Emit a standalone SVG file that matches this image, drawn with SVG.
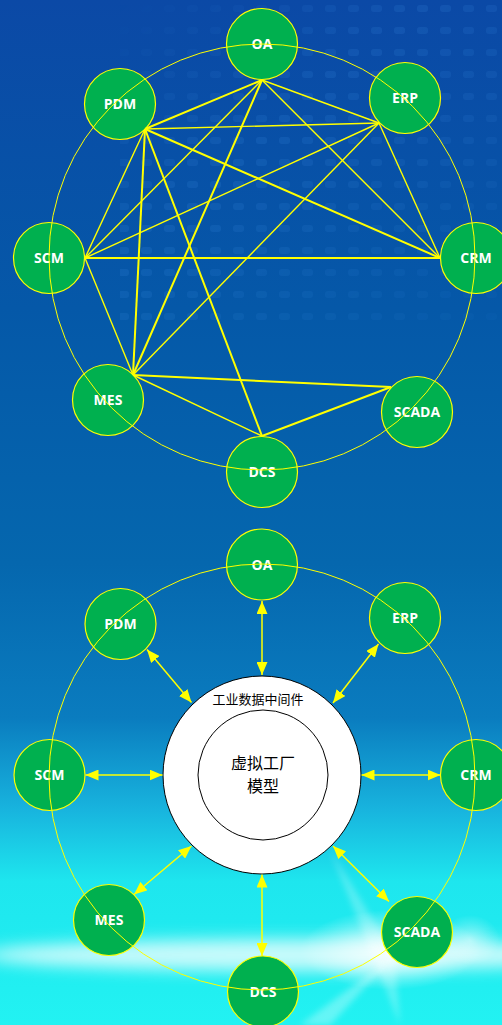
<svg xmlns="http://www.w3.org/2000/svg" width="502" height="1025" viewBox="0 0 502 1025">
<defs>
<linearGradient id="bg" x1="0" y1="0" x2="0" y2="1">
<stop offset="0" stop-color="#0b49a6"/>
<stop offset="0.3" stop-color="#0558a8"/>
<stop offset="0.55" stop-color="#0567ae"/>
<stop offset="0.7" stop-color="#0a7cbf"/>
<stop offset="0.79" stop-color="#18b4de"/>
<stop offset="0.86" stop-color="#1ee6ee"/>
<stop offset="1" stop-color="#22f2f2"/>
</linearGradient>
<radialGradient id="glow" cx="0.5" cy="0.5" r="0.5">
<stop offset="0" stop-color="#ffffff" stop-opacity="0.95"/>
<stop offset="0.5" stop-color="#ffffff" stop-opacity="0.5"/>
<stop offset="1" stop-color="#ffffff" stop-opacity="0"/>
</radialGradient>
<linearGradient id="fadeR" x1="0" y1="0" x2="1" y2="1">
<stop offset="0" stop-color="#fff" stop-opacity="0"/>
<stop offset="0.4" stop-color="#fff" stop-opacity="1"/>
<stop offset="1" stop-color="#fff" stop-opacity="0.3"/>
</linearGradient>
<mask id="dotMask"><rect x="120" y="0" width="382" height="320" fill="url(#fadeR)"/></mask>
<pattern id="dots" x="0" y="0" width="23" height="22" patternUnits="userSpaceOnUse">
<rect x="3" y="5" width="11" height="7" rx="3" fill="#4aa0f0" opacity="0.14"/>
</pattern>
<filter id="blur" x="-50%" y="-50%" width="200%" height="200%"><feGaussianBlur stdDeviation="8"/></filter>
<filter id="blur2" x="-50%" y="-50%" width="200%" height="200%"><feGaussianBlur stdDeviation="3"/></filter>
<marker id="ah" markerUnits="userSpaceOnUse" markerWidth="13" markerHeight="11" refX="13" refY="5.5" orient="auto-start-reverse" viewBox="0 0 13 11">
<path d="M0,0 L13,5.5 L0,11 z" fill="#ffff00"/>
</marker>
<style>
.node circle{fill:#00b04f;stroke:#ffff00;stroke-width:1.2}
.node text{font-family:"Open Sans","Liberation Sans",sans-serif;font-weight:bold;font-size:14px;fill:#ffffff;text-anchor:middle}
.ring{fill:none;stroke:#ffff00;stroke-width:1}
.e{stroke:#ffff00;stroke-width:1.4;fill:none}
.t{stroke-width:2}
.a{stroke:#ffff00;stroke-width:1.5;fill:none;marker-start:url(#ah);marker-end:url(#ah)}
.cjk{font-family:"Noto Sans CJK SC","Liberation Sans",sans-serif;fill:#000;text-anchor:middle}
</style>
</defs>

<!-- background -->
<rect x="0" y="0" width="502" height="1025" fill="url(#bg)"/>
<rect x="120" y="0" width="382" height="320" fill="url(#dots)" mask="url(#dotMask)"/>
<ellipse cx="300" cy="955" rx="320" ry="16" fill="#ffffff" opacity="0.75" filter="url(#blur)"/>
<ellipse cx="390" cy="950" rx="90" ry="40" fill="url(#glow)" opacity="0.9"/>
<path d="M330,850 L395,955 L400,1025 Z" fill="#ffffff" opacity="0.25" filter="url(#blur2)"/>
<path d="M395,955 L300,1025 L330,1025 Z" fill="#ffffff" opacity="0.3" filter="url(#blur2)"/>
<ellipse cx="470" cy="940" rx="30" ry="25" fill="url(#glow)" opacity="0.5"/>

<!-- TOP: nodes -->
<g id="oa1" class="node"><circle cx="262" cy="44" r="35.5"/><text x="262" y="49">OA</text></g>
<g id="pdm1" class="node"><circle cx="120" cy="104" r="35.5"/><text x="120" y="109">PDM</text></g>
<g id="erp1" class="node"><circle cx="405" cy="98" r="35.5"/><text x="405" y="103">ERP</text></g>
<g id="scm1" class="node"><circle cx="49" cy="258" r="35.5"/><text x="49" y="263">SCM</text></g>
<g id="crm1" class="node"><circle cx="476" cy="258" r="35.5"/><text x="476" y="263">CRM</text></g>
<g id="mes1" class="node"><circle cx="108" cy="400" r="35.5"/><text x="108" y="405">MES</text></g>
<g id="scada1" class="node"><circle cx="417" cy="412" r="35.5"/><text x="417" y="417">SCADA</text></g>
<g id="dcs1" class="node"><circle cx="262" cy="472" r="35.5"/><text x="262" y="477">DCS</text></g>

<g id="ring1"><circle class="ring" cx="262" cy="257" r="213"/></g>

<g id="connectors-top">
<line class="e t" x1="262" y1="80" x2="145" y2="129"/>
<line class="e" x1="262" y1="80" x2="379" y2="123"/>
<line class="e" x1="262" y1="80" x2="85" y2="258"/>
<line class="e" x1="262" y1="80" x2="440" y2="258"/>
<line class="e t" x1="262" y1="80" x2="133" y2="375"/>
<line class="e" x1="145" y1="129" x2="379" y2="123"/>
<line class="e t" x1="145" y1="129" x2="440" y2="258"/>
<line class="e" x1="145" y1="129" x2="85" y2="258"/>
<line class="e t" x1="145" y1="129" x2="133" y2="375"/>
<line class="e t" x1="145" y1="129" x2="262" y2="436"/>
<line class="e" x1="379" y1="123" x2="85" y2="258"/>
<line class="e" x1="379" y1="123" x2="440" y2="258"/>
<line class="e" x1="379" y1="123" x2="133" y2="375"/>
<line class="e t" x1="85" y1="258" x2="440" y2="258"/>
<line class="e" x1="85" y1="258" x2="133" y2="375"/>
<line class="e t" x1="133" y1="375" x2="391" y2="387"/>
<line class="e" x1="133" y1="375" x2="262" y2="436"/>
<line class="e t" x1="391" y1="387" x2="262" y2="436"/>
</g>

<!-- BOTTOM: nodes -->
<g id="oa2" class="node"><circle cx="262" cy="564.5" r="35.5"/><text x="262" y="569.5">OA</text></g>
<g id="pdm2" class="node"><circle cx="120.5" cy="624" r="35.5"/><text x="120.5" y="629">PDM</text></g>
<g id="erp2" class="node"><circle cx="405" cy="618" r="35.5"/><text x="405" y="623">ERP</text></g>
<g id="scm2" class="node"><circle cx="49.5" cy="775" r="35.5"/><text x="49.5" y="780">SCM</text></g>
<g id="crm2" class="node"><circle cx="476" cy="775" r="35.5"/><text x="476" y="780">CRM</text></g>
<g id="mes2" class="node"><circle cx="109" cy="920" r="35.5"/><text x="109" y="925">MES</text></g>
<g id="scada2" class="node"><circle cx="417" cy="932" r="35.5"/><text x="417" y="937">SCADA</text></g>
<g id="dcs2" class="node"><circle cx="263" cy="991.5" r="35.5"/><text x="263" y="996.5">DCS</text></g>

<g id="ring2"><circle class="ring" cx="262" cy="777" r="213"/></g>

<g id="middleware">
<circle cx="262" cy="775" r="99" fill="#ffffff" stroke="#000000" stroke-width="1"/>
<text class="cjk" x="258" y="704" font-size="13">工业数据中间件</text>
</g>
<g id="virtual-factory">
<circle cx="263" cy="775" r="65" fill="#ffffff" stroke="#000000" stroke-width="1"/>
<text class="cjk" x="263" y="769" font-size="16">虚拟工厂</text>
<text class="cjk" x="263" y="792" font-size="16">模型</text>
</g>

<g id="connectors-bottom">
<line class="a" x1="262" y1="601" x2="262" y2="675"/>
<line class="a" x1="147" y1="649.5" x2="191.5" y2="702.5"/>
<line class="a" x1="378.5" y1="644" x2="333" y2="703"/>
<line class="a" x1="85.5" y1="775" x2="162.5" y2="775"/>
<line class="a" x1="361.5" y1="775" x2="440.5" y2="775"/>
<line class="a" x1="134" y1="894.5" x2="191.5" y2="846"/>
<line class="a" x1="333" y1="846" x2="389" y2="901.5"/>
<line class="a" x1="262" y1="874.5" x2="262" y2="956"/>
</g>
</svg>
